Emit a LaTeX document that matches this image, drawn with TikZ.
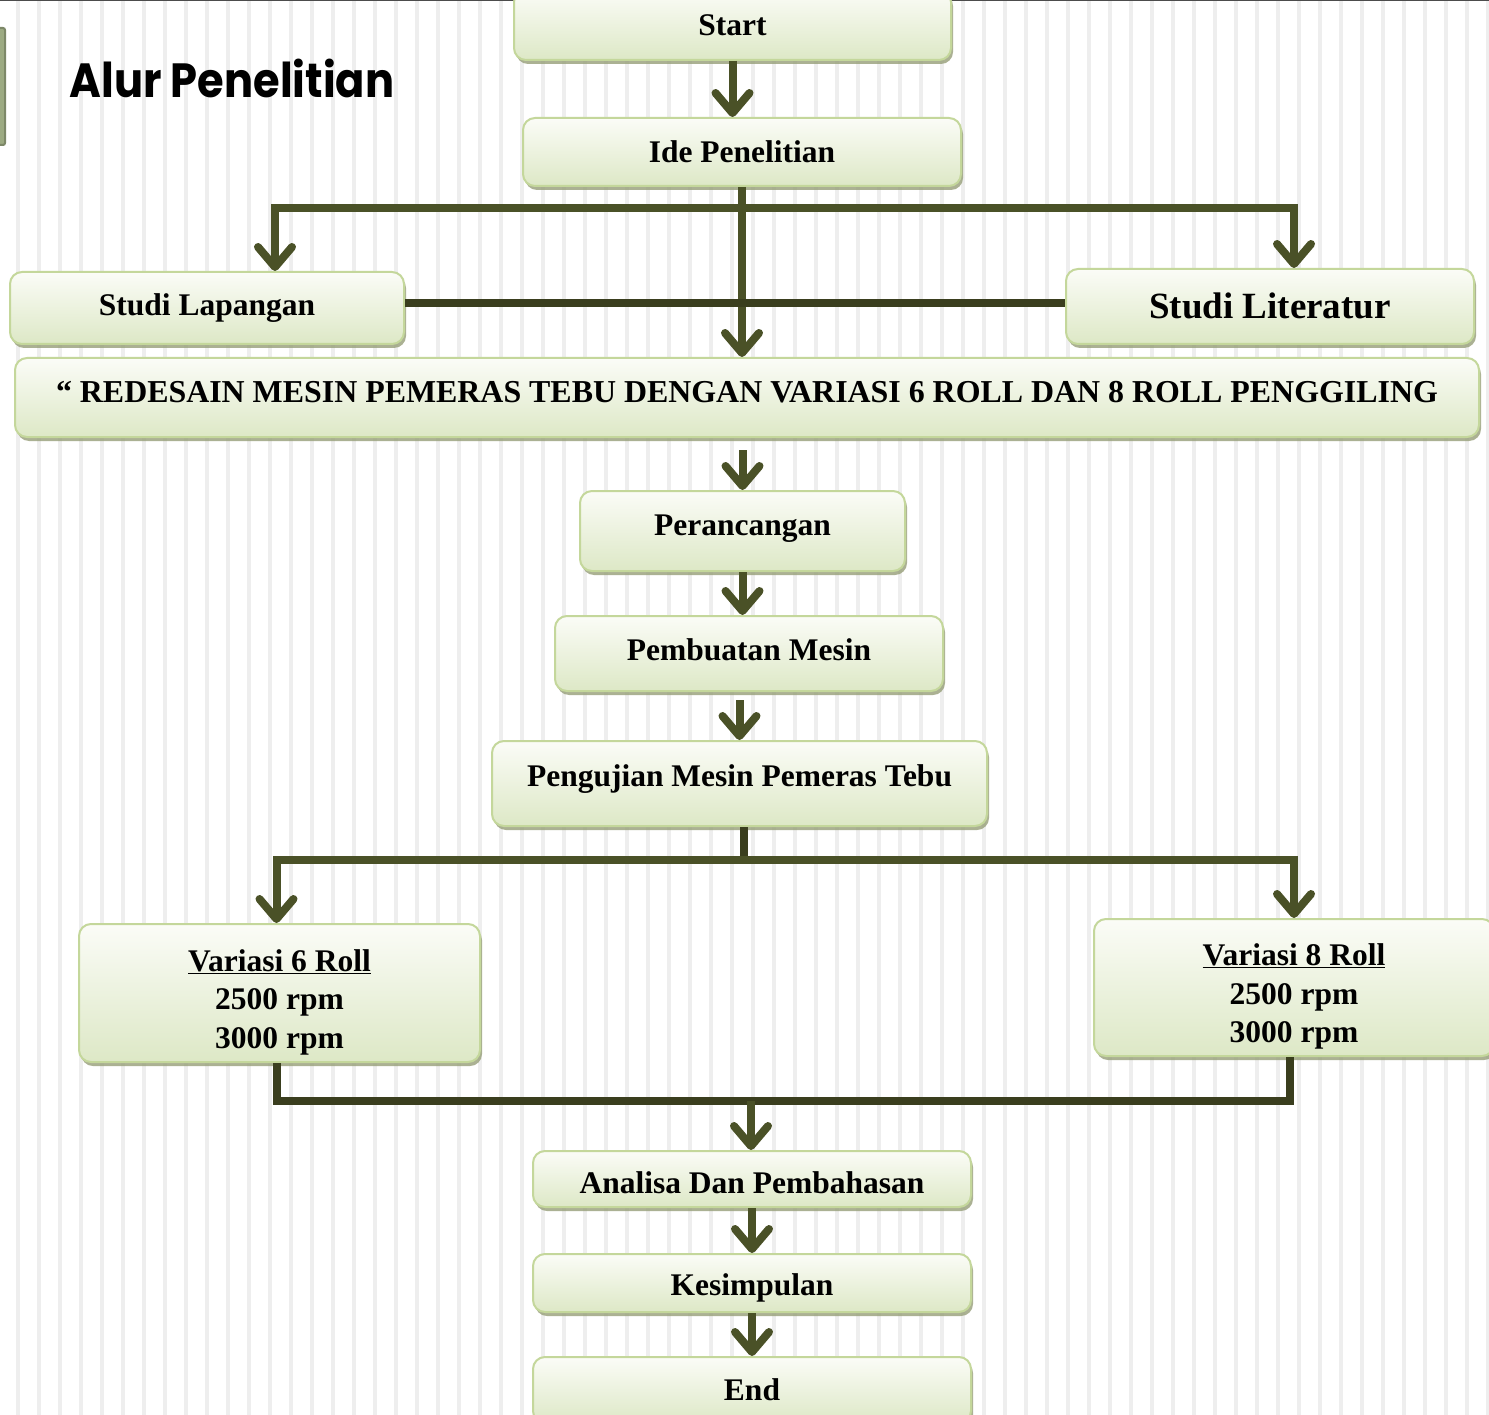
\documentclass[tikz,border=0pt]{standalone}
\usepackage{fontspec}
\setmainfont{Liberation Serif}
\newfontfamily\alurfont{Poppins}
\usetikzlibrary{arrows.meta,shadows}

\definecolor{hijautua}{RGB}{74,81,39}
\definecolor{hijaugelap}{RGB}{58,62,30}
\definecolor{tepi}{RGB}{196,215,155}
\definecolor{atas}{RGB}{251,252,247}
\definecolor{bawah}{RGB}{221,232,198}
\definecolor{bayang}{RGB}{150,158,120}
\definecolor{garisbg}{RGB}{238,238,238}
\definecolor{tab}{RGB}{156,170,130}

\newcommand{\geser}[2]{\raisebox{#1}[\height][\depth]{#2}}

\tikzset{
  kotak/.style={draw=tepi, line width=2pt, rounded corners=12pt,
    top color=atas, bottom color=bawah,
    drop shadow={shadow xshift=2pt, shadow yshift=-4pt, fill=bayang, opacity=.8},
    font=\fontsize{31.5}{38.5}\selectfont\bfseries, align=center, inner sep=0pt},
  panah/.style={draw=hijautua, line width=8pt,
    -{Straight Barb[round, length=20pt, width=34pt]}},
  garis/.style={draw=hijaugelap, line width=8pt},
}

\begin{document}
\begin{tikzpicture}[x=1pt, y=-1pt]
\path[use as bounding box, clip] (0,0) rectangle (1489,1415);
\fill[white] (0,0) rectangle (1489,1415);
\foreach \x in {18,39,...,1489}
  \fill[garisbg] (\x-2,0) rectangle (\x+2,1415);
\draw[black!70, line width=3pt] (0,0) -- (1489,0);
\draw[fill=tab, draw=tab!80!black, line width=2pt, rounded corners=2pt] (-6,28) rectangle (5,145);

\node[anchor=base west, font=\alurfont\bfseries\fontsize{48}{58}\selectfont] (alur) at (66,98) {\scalebox{0.9}[1]{Alur Penelitian}};

\node[kotak, minimum width=437pt, minimum height=70pt] (mulai) at (732.5,25) {Start};
\node[kotak, minimum width=438pt, minimum height=68pt] (ide) at (742,152) {Ide Penelitian};
\node[kotak, minimum width=394pt, minimum height=72pt] (lapangan) at (207,308) {Studi Lapangan};
\node[kotak, minimum width=408pt, minimum height=75pt, font=\fontsize{37}{44}\selectfont\bfseries] (literatur) at (1270,306.5) {\geser{1pt}{Studi Literatur}};
\node[kotak, minimum width=1464pt, minimum height=79pt, font=\fontsize{31.9}{38.5}\selectfont\bfseries] (topik) at (747,397.5) {\geser{5pt}{“ REDESAIN MESIN PEMERAS TEBU DENGAN VARIASI 6 ROLL DAN 8 ROLL PENGGILING}};
\node[kotak, minimum width=325pt, minimum height=80pt] (rancang) at (742.5,531) {\geser{2pt}{Perancangan}};
\node[kotak, minimum width=388pt, minimum height=75pt] (buat) at (749,653.5) {\geser{4pt}{Pembuatan Mesin}};
\node[kotak, minimum width=495pt, minimum height=85pt] (uji) at (739.5,783.5) {\geser{4pt}{Pengujian Mesin Pemeras Tebu}};
\node[kotak, minimum width=401pt, minimum height=138pt] (var6) at (279.5,993) {\geser{-9pt}{\begin{tabular}{@{}c@{}}\underline{Variasi 6 Roll}\\2500 rpm\\3000 rpm\end{tabular}}};
\node[kotak, minimum width=400pt, minimum height=137pt] (var8) at (1294,987.5) {\geser{-9pt}{\begin{tabular}{@{}c@{}}\underline{Variasi 8 Roll}\\2500 rpm\\3000 rpm\end{tabular}}};
\node[kotak, minimum width=438pt, minimum height=56pt] (analisa) at (752,1179) {\geser{-4pt}{Analisa Dan Pembahasan}};
\node[kotak, minimum width=438pt, minimum height=58pt] (simpul) at (752,1283) {\geser{-5pt}{Kesimpulan}};
\node[kotak, minimum width=438pt, minimum height=66pt] (selesai) at (752,1390) {End};

\coordinate (cabang) at (742,208);
\coordinate (kiri) at (275,208);
\coordinate (kanan) at (1294,208);
\coordinate (cabang2) at (744,860);
\coordinate (gabung) at (751,1101);

\draw[panah] (mulai.south) -- (mulai.south |- ide.north);
\draw[panah] (ide.south) -- (ide.south |- topik.north);
\draw[panah] (cabang) -- (kiri) -- (kiri |- lapangan.north);
\draw[panah] (cabang) -- (kanan) -- (kanan |- literatur.north);
\draw[garis] ([yshift=5pt]lapangan.east) -- ([yshift=5pt]lapangan.east -| literatur.west);
\draw[panah, shorten <=12pt] (topik.south -| rancang) -- (rancang.north);
\draw[panah] (rancang.south) -- (rancang.south |- buat.north);
\draw[panah, shorten <=8pt] (buat.south -| uji.north) -- (uji.north);
\draw[garis] (uji.south -| cabang2) -- (cabang2);
\draw[panah] (cabang2) -| ([xshift=-3pt]var6.north);
\draw[panah] (cabang2) -| (var8.north);
\draw[garis] ([xshift=-3pt]var6.south) -- ([xshift=-3pt]var6.south |- gabung) -- ([xshift=-4pt]var8.south |- gabung) -- ([xshift=-4pt]var8.south);
\draw[panah] (gabung) -- (gabung |- analisa.north);
\draw[panah] (analisa.south) -- (analisa.south |- simpul.north);
\draw[panah] (simpul.south) -- (simpul.south |- selesai.north);
\end{tikzpicture}
\end{document}
